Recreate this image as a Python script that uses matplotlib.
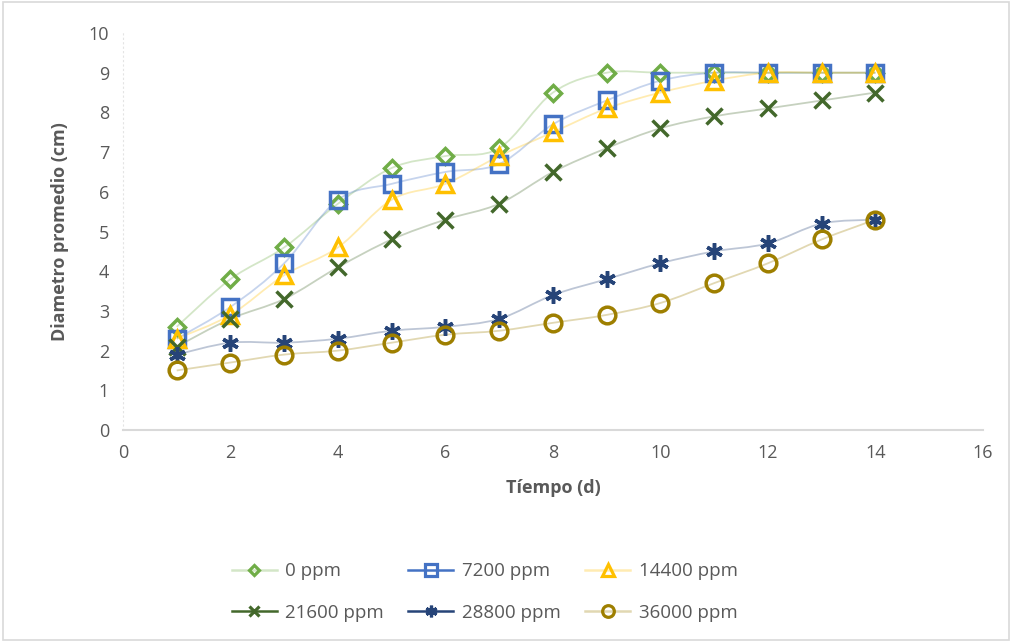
import matplotlib.pyplot as plt
from matplotlib.path import Path
from matplotlib.patches import PathPatch
from matplotlib.lines import Line2D
from matplotlib.colors import to_rgba

# data
dias = [1, 2, 3, 4, 5, 6, 7, 8, 9, 10, 11, 12, 13, 14]
ppm_0 = [2.6, 3.8, 4.6, 5.7, 6.6, 6.9, 7.1, 8.5, 9.0, 9.0, 9.0, 9.0, 9.0, 9.0]
ppm_7200 = [2.3, 3.1, 4.2, 5.8, 6.2, 6.5, 6.7, 7.7, 8.3, 8.8, 9.0, 9.0, 9.0, 9.0]
ppm_14400 = [2.3, 2.9, 3.9, 4.6, 5.8, 6.2, 6.9, 7.5, 8.1, 8.5, 8.8, 9.0, 9.0, 9.0]
ppm_21600 = [2.1, 2.8, 3.3, 4.1, 4.8, 5.3, 5.7, 6.5, 7.1, 7.6, 7.9, 8.1, 8.3, 8.5]
ppm_28800 = [1.9, 2.2, 2.2, 2.3, 2.5, 2.6, 2.8, 3.4, 3.8, 4.2, 4.5, 4.7, 5.2, 5.3]
ppm_36000 = [1.5, 1.7, 1.9, 2.0, 2.2, 2.4, 2.5, 2.7, 2.9, 3.2, 3.7, 4.2, 4.8, 5.3]
etiquetas = ['0 ppm', '7200 ppm', '14400 ppm', '21600 ppm', '28800 ppm', '36000 ppm']

series = [ppm_0, ppm_7200, ppm_14400, ppm_21600, ppm_28800, ppm_36000]
colores = ['#70AD47', '#4472C4', '#FFC000', '#43682B', '#264478', '#9E7F00']
marcas = ['D', 's', '^', 'x', (6, 2, 0), 'o']
tamanos = [8, 12, 12, 11, 12, 12]
# how strong the line looks in the legend
alpha_leyenda = [0.3, 1.0, 0.3, 1.0, 1.0, 0.3]

plt.rcParams['font.family'] = ['Open Sans', 'DejaVu Sans']
GRIS = '#595959'


def curva_suave(xs, ys):
    # Excel-like smooth line: bezier segments with catmull-rom control points
    verts = [(xs[0], ys[0])]
    codes = [Path.MOVETO]
    n = len(xs)
    t = 1.0 / 6
    for i in range(n - 1):
        x0, y0 = (xs[i - 1], ys[i - 1]) if i > 0 else (xs[i], ys[i])
        x1, y1 = xs[i], ys[i]
        x2, y2 = xs[i + 1], ys[i + 1]
        x3, y3 = (xs[i + 2], ys[i + 2]) if i + 2 < n else (x2, y2)
        verts += [(x1 + (x2 - x0) * t, y1 + (y2 - y0) * t),
                  (x2 - (x3 - x1) * t, y2 - (y3 - y1) * t),
                  (x2, y2)]
        codes += [Path.CURVE4] * 3
    return Path(verts, codes)


fig = plt.figure(figsize=(10.12, 6.42), dpi=100)
ax = fig.add_axes([0.1215, 0.3302, 0.8498, 0.6184])

handles = []
for ys, col, mk, ms, la, lab in zip(series, colores, marcas, tamanos, alpha_leyenda, etiquetas):
    ax.add_patch(PathPatch(curva_suave(dias, ys), facecolor='none', edgecolor=col,
                           lw=1.3, alpha=0.3, zorder=2))
    ax.plot(dias, ys, linestyle='none', marker=mk, markersize=ms, markerfacecolor='none',
            markeredgecolor=col, markeredgewidth=2.5, zorder=3)
    handles.append(Line2D([0], [0], color=to_rgba(col, la), lw=1.8, marker=mk,
                          markersize=ms * 0.7, markerfacecolor='none',
                          markeredgecolor=col, markeredgewidth=2.3))

ax.set_xlim(0, 16)
ax.set_ylim(0, 10)
ax.set_xticks(range(0, 17, 2))
ax.set_yticks(range(0, 11))
ax.tick_params(length=0, labelsize=13, labelcolor=GRIS, pad=10)
for s in ['top', 'right']:
    ax.spines[s].set_visible(False)
ax.spines['left'].set_color('#E4E4E4')
ax.spines['left'].set_linestyle((0, (1, 3)))
ax.spines['bottom'].set_color('#D9D9D9')
ax.spines['bottom'].set_linewidth(1.5)

ax.set_xlabel('Tíempo (d)', fontsize=13, fontweight='bold', color=GRIS, labelpad=12)
ax.set_ylabel('Diametro promedio (cm)', fontsize=13, fontweight='bold', color=GRIS, labelpad=14)

# legend fills row by row like Excel
orden = [0, 3, 1, 4, 2, 5]
fig.legend(handles=[handles[i] for i in orden], labels=[etiquetas[i] for i in orden],
           loc='center', bbox_to_anchor=(0.479, 0.078), ncol=3, frameon=False, fontsize=13.5,
           labelcolor=GRIS, handlelength=2.4, columnspacing=1.3, handletextpad=0.45,
           labelspacing=1.25)

fig.patches.append(plt.Rectangle((0.003, 0.003), 0.994, 0.994, transform=fig.transFigure,
                                 fill=False, edgecolor='#D9D9D9', lw=1.2))

fig.savefig('out.png', dpi=100)
